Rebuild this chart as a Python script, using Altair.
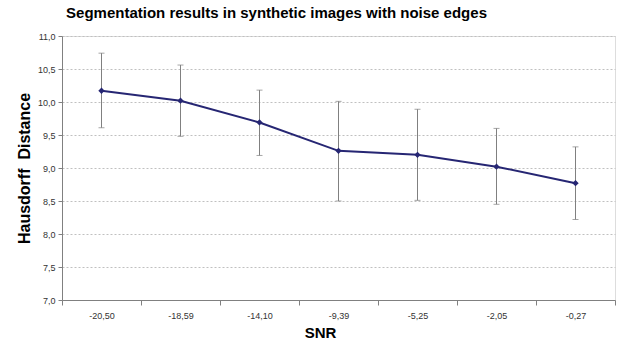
import altair as alt
import pandas as pd

snr = ["-20,50", "-18,59", "-14,10", "-9,39", "-5,25", "-2,05", "-0,27"]
hd = [10.17, 10.02, 9.69, 9.26, 9.20, 9.02, 8.77]
hd_hi = [10.74, 10.56, 10.18, 10.01, 9.89, 9.60, 9.32]
hd_lo = [9.61, 9.48, 9.19, 8.50, 8.51, 8.45, 8.22]
y_ticks = [7.0, 7.5, 8.0, 8.5, 9.0, 9.5, 10.0, 10.5, 11.0]

df = pd.DataFrame({"snr": snr, "hd": hd, "hi": hd_hi, "lo": hd_lo})

FONT = "Liberation Sans"
GRAY = "#808080"
NAVY = "#262673"

x = alt.X("snr:N", sort=None, scale=alt.Scale(paddingInner=0, paddingOuter=0),
          axis=alt.Axis(title="SNR", labelAngle=0, tickBand="extent", tickSize=5,
                        labelFontSize=9, labelColor="#333333", labelPadding=6,
                        titleFontSize=15, titleFontWeight="bold", titleFont=FONT,
                        titleBaseline="alphabetic", titleY=37, titleX=258,
                        domainColor=GRAY, tickColor=GRAY, labelFont=FONT))
y_scale = alt.Scale(domain=[7, 11], nice=False, zero=False)
y_axis = alt.Axis(title="Hausdorff\u00a0 Distance", values=y_ticks, labelOverlap=False,
                  labelExpr="replace(format(datum.value, '.1f'), '.', ',')",
                  labelFontSize=9, labelColor="#333333", labelFont=FONT,
                  tickSize=4, labelPadding=3,
                  titleFontSize=16, titleFontWeight="bold", titleFont=FONT,
                  titleX=-33, titleBaseline="alphabetic",
                  grid=True, gridColor="#c0c0c0", gridDash=[2, 2],
                  domainColor=GRAY, tickColor=GRAY)

base = alt.Chart(df)

rule = base.mark_rule(color=GRAY, strokeWidth=1).encode(
    x=x, y=alt.Y("lo:Q", scale=y_scale, axis=y_axis), y2="hi:Q")
cap_hi = base.mark_tick(color=GRAY, size=6, thickness=1).encode(
    x=x, y=alt.Y("hi:Q", scale=y_scale, axis=y_axis))
cap_lo = base.mark_tick(color=GRAY, size=6, thickness=1).encode(
    x=x, y=alt.Y("lo:Q", scale=y_scale, axis=y_axis))
line = base.mark_line(color=NAVY, strokeWidth=2).encode(
    x=x, y=alt.Y("hd:Q", scale=y_scale, axis=y_axis))
pts = base.mark_point(shape="diamond", filled=True, color=NAVY, size=40, opacity=1).encode(
    x=x, y=alt.Y("hd:Q", scale=y_scale, axis=y_axis))

chart = alt.layer(rule, cap_hi, cap_lo, line, pts).properties(
    width=553, height=264,
    autosize="none",
    padding={"left": 62, "top": 36, "right": 6, "bottom": 44},
    title=alt.TitleParams("Segmentation results in synthetic images with noise edges",
                          font=FONT, fontSize=15, fontWeight="bold", color="black",
                          anchor="middle", frame="group", dx=-62, offset=11),
).configure_view(stroke=GRAY, strokeWidth=1).configure(background="white")

chart.save("out.html", embed_options={"renderer": "svg", "actions": False})
